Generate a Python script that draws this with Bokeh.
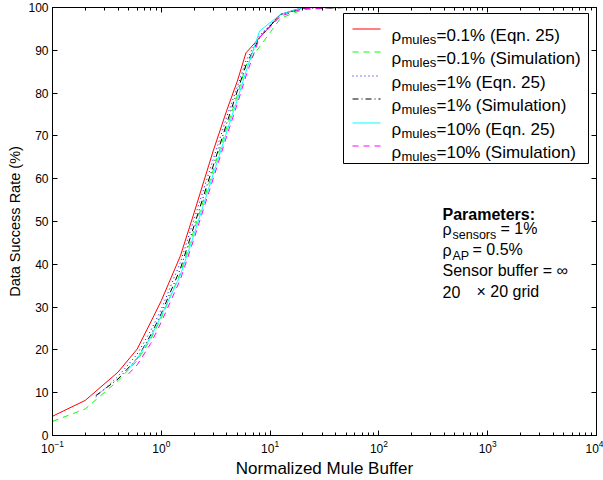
from bokeh.plotting import figure
from bokeh.models import (LinearAxis, FixedTicker, Label, BoxAnnotation,
                          Arrow, Range1d, LogTickFormatter)
from bokeh.embed import file_html
from bokeh.resources import INLINE

# ---------------- data ----------------
buf_01 = [0.1, 0.2, 0.4, 0.6, 0.8, 1, 1.5, 2, 3, 4, 5, 6, 12.5, 20, 50]
eqn_01 = [4.5, 8.2, 14.8, 20.2, 26.5, 31.5, 42, 52, 66.5, 76, 82.8, 89.4, 98.4, 100, 100]
sim_01 = [3.3, 6.2, 12.8, 17.5, 22.5, 27.5, 38, 48, 62, 72, 79.5, 86.5, 97.5, 99.5, 100]

buf_1 = [0.25, 0.4, 0.6, 0.8, 1, 1.5, 2, 3, 4, 5, 6, 8, 12.5, 20, 50]
eqn_1 = [9.0, 13.8, 19.0, 24.5, 29.5, 40.5, 50.5, 64.5, 74.5, 81.5, 87.5, 93.5, 98.3, 100, 100]
sim_1 = [9.3, 13.2, 18.0, 23.5, 28.5, 39.0, 49.0, 63.0, 73.0, 80.5, 86.5, 93.0, 98.4, 99.8, 100]

buf_10 = [0.5, 0.6, 0.8, 1, 1.5, 2, 3, 4, 5, 6, 8, 12.5, 20, 50]
eqn_10 = [15.5, 18, 23, 28, 37.5, 47, 61, 71, 78.5, 85, 94.5, 98.4, 100, 100]
sim_10 = [14.4, 16.5, 21.5, 26.5, 36.5, 46, 60, 70, 77.5, 84, 93, 98, 99.7, 100]

x_major = [0.1, 1, 10, 100, 1000, 10000]
x_minor = [m * d for d in [0.1, 1, 10, 100, 1000] for m in range(2, 10)]
y_ticks = [0, 10, 20, 30, 40, 50, 60, 70, 80, 90, 100]

legend_labels = ["=0.1% (Eqn. 25)", "=0.1% (Simulation)", "=1% (Eqn. 25)",
                 "=1% (Simulation)", "=10% (Eqn. 25)", "=10% (Simulation)"]

FONT = "Liberation Sans"

p = figure(width=603, height=480, x_axis_type="log",
           x_range=Range1d(0.1, 10000), y_range=Range1d(0, 100),
           output_backend="svg", toolbar_location=None,
           min_border_left=52, min_border_right=7, min_border_top=7, min_border_bottom=45)
p.background_fill_color = "white"
p.border_fill_color = "white"
p.outline_line_color = "black"
p.outline_line_width = 1
p.xgrid.visible = False
p.ygrid.visible = False

series = [
    (buf_01, eqn_01, "#ff0000", "solid"),
    (buf_01, sim_01, "#00ff00", "6 5"),
    (buf_1, eqn_1, "#0000ff", "1 3"),
    (buf_1, sim_1, "#000000", "6 3 1 3"),
    (buf_10, eqn_10, "#00ffff", "solid"),
    (buf_10, sim_10, "#ff00ff", "6 5"),
]
for xs, ys, c, d in series:
    p.line(xs, ys, line_color=c, line_dash=d, line_width=1)


def style_axis(ax, labels=True):
    ax.axis_line_color = "black"
    ax.major_tick_line_color = "black"
    ax.minor_tick_line_color = "black"
    ax.major_tick_in = 5
    ax.major_tick_out = 0
    ax.minor_tick_in = 3
    ax.minor_tick_out = 0
    ax.major_label_text_font = FONT
    ax.major_label_text_color = "black"
    if labels:
        ax.major_label_text_font_size = "12px"
        ax.major_label_standoff = 4
    else:
        ax.major_label_text_font_size = "1px"
        ax.major_label_text_alpha = 0
        ax.major_label_standoff = 0
    ax.axis_label_text_font = FONT
    ax.axis_label_text_font_style = "normal"
    ax.axis_label_text_color = "black"


xb = p.xaxis[0]
xb.ticker = FixedTicker(ticks=x_major, minor_ticks=x_minor)
xb.formatter = LogTickFormatter()
style_axis(xb)
xb.axis_label = "Normalized Mule Buffer"
xb.axis_label_text_font_size = "17px"
xb.axis_label_standoff = 3

yl = p.yaxis[0]
yl.ticker = FixedTicker(ticks=y_ticks, minor_ticks=[])
style_axis(yl)
yl.axis_label = "Data Success Rate (%)"
yl.axis_label_text_font_size = "14.5px"
yl.axis_label_standoff = 2

xt = LinearAxis(ticker=FixedTicker(ticks=x_major, minor_ticks=x_minor))
style_axis(xt, labels=False)
p.add_layout(xt, "above")
yr = LinearAxis(ticker=FixedTicker(ticks=y_ticks, minor_ticks=[]))
style_axis(yr, labels=False)
p.add_layout(yr, "right")

# page-pixel -> frame screen coords
FL, FB = 52, 435
def sx(px):
    return px - FL
def sy(py):
    return FB - py

# legend box
p.add_layout(BoxAnnotation(left=sx(343), right=sx(588), top=sy(13), bottom=sy(163),
                           left_units="screen", right_units="screen",
                           top_units="screen", bottom_units="screen",
                           fill_color="white", fill_alpha=1.0,
                           line_color="black", line_width=1, line_alpha=1.0))

row0, dy = 35.0, 23.4
for i, ((xs, ys, c, d), lab) in enumerate(zip(series, legend_labels)):
    base = row0 + i * dy
    ly = round(base - 7) + 0.5
    p.add_layout(Arrow(end=None, start=None, x_start=sx(352), y_start=sy(ly), x_end=sx(380), y_end=sy(ly),
                       start_units="screen", end_units="screen",
                       line_color=c, line_alpha=1.0, line_dash=d, line_width=1))
    p.add_layout(Label(x=sx(391), y=sy(base), x_units="screen", y_units="screen", text="ρ",
                       text_font=FONT, text_font_size="17px", text_color="black",
                       text_baseline="alphabetic", text_align="left"))
    p.add_layout(Label(x=sx(401), y=sy(base + 4), x_units="screen", y_units="screen", text="mules",
                       text_font=FONT, text_font_size="13px", text_color="black",
                       text_baseline="alphabetic", text_align="left"))
    p.add_layout(Label(x=sx(436), y=sy(base), x_units="screen", y_units="screen", text=lab,
                       text_font=FONT, text_font_size="17px", text_color="black",
                       text_baseline="alphabetic", text_align="left"))

# parameters block
def txt(x, y, t, size="16px", style="normal"):
    p.add_layout(Label(x=sx(x), y=sy(y), x_units="screen", y_units="screen", text=t,
                       text_font=FONT, text_font_size=size, text_font_style=style,
                       text_color="black", text_baseline="alphabetic", text_align="left"))

txt(442, 214, "Parameters:", style="bold")
txt(442, 229, "ρ")
txt(452, 234, "sensors", size="12.5px")
txt(500, 228, "= 1%")
txt(442, 250, "ρ")
txt(452, 255, "AP", size="12.5px")
txt(472, 249, "= 0.5%")
txt(442, 270, "Sensor buffer = ∞")
txt(442, 291, "20")
txt(476, 291, "× 20 grid")

open("out.html", "w").write(file_html(p, INLINE))
